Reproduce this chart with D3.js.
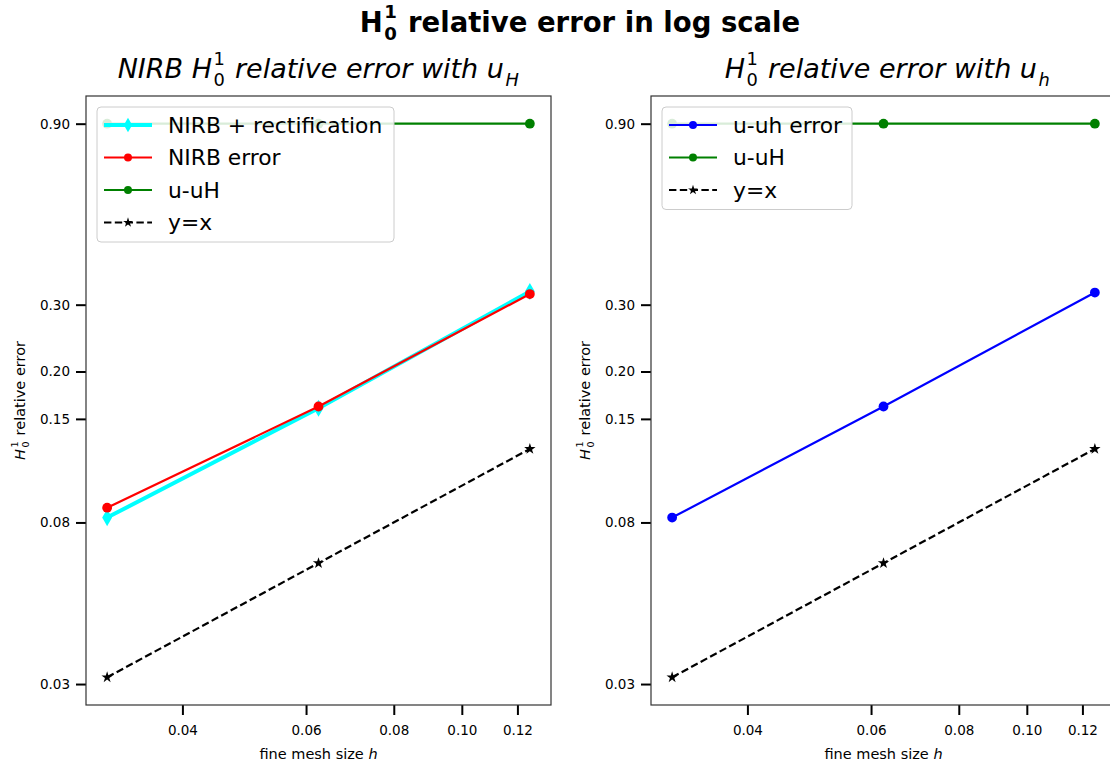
<!DOCTYPE html>
<html>
<head>
<meta charset="utf-8">
<script src="https://cdn.jsdelivr.net/npm/d3@7"></script>
<style>
html,body{margin:0;padding:0;background:#fff;overflow:hidden;}
svg{display:block;font-family:"DejaVu Sans",sans-serif;}
</style>
</head>
<body>
<svg id="chart" width="1110" height="764"></svg>
<script>
// ---------------- data ----------------
const meshSizes = [0.03125, 0.0625, 0.125];
const nirbRectification = [0.0824, 0.160, 0.325];
const nirbError = [0.0875, 0.1617, 0.320];
const uMinusUH = [0.9, 0.9, 0.9];
const yEqualsX = [0.03125, 0.0625, 0.125];
const uMinusUhError = [0.0824, 0.1617, 0.323];
const xTickValues = [0.04, 0.06, 0.08, 0.10, 0.12];
const yTickValues = [0.03, 0.08, 0.15, 0.20, 0.30, 0.90];

const leftSeries = [
  {name: "NIRB + rectification", values: nirbRectification, color: "cyan", width: 4, marker: "diamond"},
  {name: "NIRB error", values: nirbError, color: "red", width: 2.2, marker: "circle"},
  {name: "u-uH", values: uMinusUH, color: "green", width: 2.2, marker: "circle"},
  {name: "y=x", values: yEqualsX, color: "black", width: 2.2, marker: "star", dash: "7.4,3.4"}
];
const rightSeries = [
  {name: "u-uh error", values: uMinusUhError, color: "blue", width: 2.2, marker: "circle"},
  {name: "u-uH", values: uMinusUH, color: "green", width: 2.2, marker: "circle"},
  {name: "y=x", values: yEqualsX, color: "black", width: 2.2, marker: "star", dash: "7.4,3.4"}
];

const svg = d3.select("#chart");
const FONT = '"DejaVu Sans", sans-serif';

// measure helper
function measure(str, size, weight, style) {
  const t = svg.append("text").attr("font-size", size).attr("font-weight", weight)
    .attr("font-style", style).style("white-space", "pre").text(str);
  const w = t.node().getComputedTextLength();
  t.remove();
  return w;
}

// rich text in ONE text element: parts = [{t, italic}] or {sup, sub}
function richText(parent, parts, opts) {
  const size = opts.size;
  const weight = opts.bold ? "bold" : "normal";
  const runs = [];
  let x = 0;
  parts.forEach(p => {
    if (p.t !== undefined) {
      const st = p.italic ? "italic" : "normal";
      runs.push({text: p.t, x: x, y: 0, size: size, style: st});
      x += measure(p.t, size, weight, st);
    } else {
      const s = size * 0.66;
      let mw = 0;
      if (p.sup !== undefined) {
        runs.push({text: p.sup, x: x + 1.5, y: -size * 0.5, size: s, style: "normal"});
        mw = Math.max(mw, measure(p.sup, s, weight, "normal"));
      }
      if (p.sub !== undefined) {
        const st = p.subItalic ? "italic" : "normal";
        runs.push({text: p.sub, x: x + 1.5, y: size * 0.29, size: s, style: st});
        mw = Math.max(mw, measure(p.sub, s, weight, st));
      }
      x += mw + 3;
    }
  });
  const total = x;
  const g = parent.append("g");
  const text = g.append("text").attr("font-weight", weight).attr("fill", "#000")
    .attr("font-family", FONT).style("white-space", "pre");
  runs.forEach(r => {
    text.append("tspan").attr("x", r.x).attr("y", r.y).attr("font-size", r.size)
      .attr("font-style", r.style).text(r.text);
  });
  if (opts.rotate) {
    g.attr("transform", `translate(${opts.x},${opts.y}) rotate(-90) translate(${-total / 2},0)`);
  } else {
    g.attr("transform", `translate(${opts.x - total / 2},${opts.y})`);
  }
  return g;
}

function markerPath(type, size) {
  if (type === "circle") return d3.symbol(d3.symbolCircle, size)();
  if (type === "diamond") return d3.symbol(d3.symbolDiamond, size)();
  return d3.symbol(d3.symbolStar, size)();
}

function logDomain(vals) {
  const lo = Math.log10(d3.min(vals)), hi = Math.log10(d3.max(vals));
  const m = (hi - lo) * 0.05;
  return [Math.pow(10, lo - m), Math.pow(10, hi + m)];
}

function drawPanel(cfg) {
  const {x0, x1, y0, y1, series} = cfg;
  const allY = series.flatMap(s => s.values);
  const x = d3.scaleLog().domain(logDomain(meshSizes)).range([x0, x1]);
  const y = d3.scaleLog().domain(logDomain(allY)).range([y1, y0]);
  const g = svg.append("g");

  const clipId = "clip" + x0;
  svg.append("clipPath").attr("id", clipId).append("rect")
    .attr("x", x0 - 6).attr("y", y0).attr("width", x1 - x0 + 12).attr("height", y1 - y0);

  const plot = g.append("g").attr("clip-path", `url(#${clipId})`);
  const line = d3.line().x((d, i) => x(meshSizes[i])).y(d => y(d));
  series.forEach(s => {
    plot.append("path").datum(s.values).attr("d", line)
      .attr("fill", "none").attr("stroke", s.color).attr("stroke-width", s.width)
      .attr("stroke-dasharray", s.dash || null).attr("stroke-linejoin", "round");
    plot.selectAll(null).data(s.values).enter().append("path")
      .attr("d", markerPath(s.marker, s.marker === "diamond" ? 85 : (s.marker === "star" ? 40 : 75)))
      .attr("transform", (d, i) => `translate(${x(meshSizes[i])},${y(d)})`)
      .attr("fill", s.color).attr("stroke", "none");
  });

  // axes
  const xAxis = d3.axisBottom(x).tickValues(xTickValues).tickFormat(d3.format(".2f"))
    .tickSizeInner(10).tickSizeOuter(0).tickPadding(6);
  const yAxis = d3.axisLeft(y).tickValues(yTickValues).tickFormat(d3.format(".2f"))
    .tickSizeInner(10).tickSizeOuter(0).tickPadding(6);
  const gx = g.append("g").attr("transform", `translate(0,${y1})`).call(xAxis);
  const gy = g.append("g").attr("transform", `translate(${x0},0)`).call(yAxis);
  [gx, gy].forEach(a => {
    a.select(".domain").remove();
    a.selectAll(".tick line").attr("stroke", "#000").attr("stroke-width", 2);
    a.selectAll(".tick text").attr("font-size", 13.5).attr("font-family", FONT).attr("fill", "#000");
  });
  gx.selectAll(".tick text").attr("dy", "1.0em");

  // spines
  g.append("rect").attr("x", x0).attr("y", y0).attr("width", x1 - x0).attr("height", y1 - y0)
    .attr("fill", "none").attr("stroke", "#333").attr("stroke-width", 1.2);

  // labels
  const cx = (x0 + x1) / 2;
  richText(svg, [{t: "fine mesh size "}, {t: "h", italic: true}], {size: 14.5, x: cx, y: 759});
  richText(svg, [{t: "H", italic: true}, {sup: "1", sub: "0"}, {t: " relative error"}],
    {size: 14.5, x: x0 - 61, y: (y0 + y1) / 2, rotate: true});
  richText(svg, cfg.title, {size: 27, x: cfg.titleX, y: 78});

  // legend
  const lg = svg.append("g").attr("transform", `translate(${x0 + 11},${y0 + 11})`);
  const lgW = cfg.legendWidth, rowH = 32.5, lgH = series.length * rowH + 5;
  lg.append("rect").attr("width", lgW).attr("height", lgH).attr("rx", 4)
    .attr("fill", "#fff").attr("fill-opacity", 0.85).attr("stroke", "#cccccc").attr("stroke-width", 1);
  series.forEach((s, i) => {
    const yy = 18 + i * rowH;
    lg.append("line").attr("x1", 7).attr("x2", 55).attr("y1", yy).attr("y2", yy)
      .attr("stroke", s.color).attr("stroke-width", s.width).attr("stroke-dasharray", s.dash || null);
    lg.append("path").attr("d", markerPath(s.marker, s.marker === "diamond" ? 60 : (s.marker === "star" ? 30 : 50)))
      .attr("transform", `translate(31,${yy})`).attr("fill", s.color);
    lg.append("text").attr("x", 71).attr("y", yy + 7.5).attr("font-size", 21.8)
      .attr("font-family", FONT).attr("fill", "#000").text(s.name);
  });
}

drawPanel({
  x0: 86, x1: 551, y0: 96, y1: 705, series: leftSeries, legendWidth: 297, titleX: 319,
  title: [{t: "NIRB ", italic: true}, {t: "H", italic: true}, {sup: "1", sub: "0"},
          {t: " relative error with ", italic: true}, {t: "u", italic: true}, {sub: "H", subItalic: true}]
});
drawPanel({
  x0: 651, x1: 1116, y0: 96, y1: 705, series: rightSeries, legendWidth: 190, titleX: 888,
  title: [{t: "H", italic: true}, {sup: "1", sub: "0"},
          {t: " relative error with ", italic: true}, {t: "u", italic: true}, {sub: "h", subItalic: true}]
});

// suptitle
richText(svg, [{t: "H"}, {sup: "1", sub: "0"}, {t: " relative error in log scale"}],
  {size: 27.5, x: 580, y: 32, bold: true});
</script>
</body>
</html>
